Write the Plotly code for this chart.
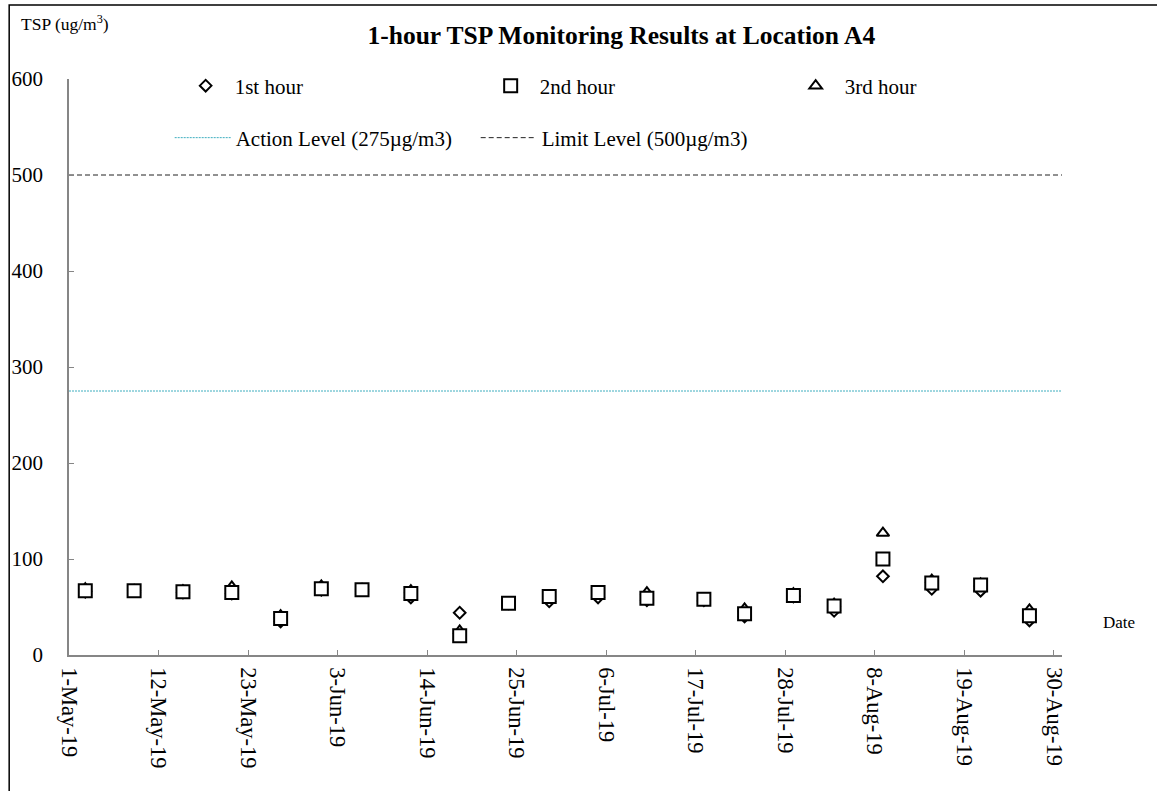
import plotly.graph_objects as go

# ---- data ----
dates = ["2019-05-03", "2019-05-09", "2019-05-15", "2019-05-21", "2019-05-27",
         "2019-06-01", "2019-06-06", "2019-06-12", "2019-06-18", "2019-06-24",
         "2019-06-29", "2019-07-05", "2019-07-11", "2019-07-18", "2019-07-23",
         "2019-07-29", "2019-08-03", "2019-08-09", "2019-08-15", "2019-08-21",
         "2019-08-27"]
hour1 = [66, 67, 65, 64, 35, 68, 68, 60, 44, 54, 56, 60, 57, 57, 40, 61, 46, 82, 69, 67, 36]
hour2 = [67, 67, 66, 65, 38, 69, 68, 64, 20, 54, 61, 65, 59, 58, 43, 62, 51, 100, 75, 73, 41]
hour3 = [69, 67, 67, 71, 41, 72, 68, 67, 25, 54, 58, 62, 65, 58, 48, 64, 53, 127, 78, 74, 47]

level_dates = ["2019-05-01", "2019-08-31"]
action_level = [275, 275]
limit_level = [500, 500]

x_range = ["2019-05-01", "2019-08-31"]
y_range = [0, 600]

FONT = "Liberation Serif, Times New Roman, serif"

fig = go.Figure()

fig.add_trace(go.Scatter(
    x=dates, y=hour3, mode="markers", name="3rd hour", legendrank=3,
    marker=dict(symbol="triangle-up", size=11, color="white",
                line=dict(color="black", width=2)),
    legend="legend"))
fig.add_trace(go.Scatter(
    x=dates, y=hour1, mode="markers", name="1st hour", legendrank=1,
    marker=dict(symbol="diamond", size=9, color="white",
                line=dict(color="black", width=2)),
    legend="legend"))
fig.add_trace(go.Scatter(
    x=dates, y=hour2, mode="markers", name="2nd hour", legendrank=2,
    marker=dict(symbol="square", size=13, color="white",
                line=dict(color="black", width=2)),
    legend="legend"))

fig.add_trace(go.Scatter(
    x=level_dates, y=action_level, mode="lines", name="Action Level (275µg/m3)",
    line=dict(color="#3eaebf", width=1, dash="2px,1px"), legend="legend2", legendrank=1))
fig.add_trace(go.Scatter(
    x=level_dates, y=limit_level, mode="lines", name="Limit Level (500µg/m3)",
    line=dict(color="#222222", width=1, dash="5px,3px"), legend="legend2", legendrank=2))

L, R, T, B = 66, 95, 79, 136
W, H = 1157, 791
PW, PH = W - L - R, H - T - B


def px_x(px):
    return (px - L) / PW


def px_y(py):
    return 1 - (py - T) / PH


fig.update_layout(
    width=W, height=H,
    margin=dict(l=L, r=R, t=T, b=B),
    paper_bgcolor="white", plot_bgcolor="white",
    font=dict(family=FONT, size=21, color="black"),
    title=dict(text="<b>1-hour TSP Monitoring Results at Location A4</b>",
               font=dict(family=FONT, size=25.5, color="black"),
               x=px_x(620), xref="paper", xanchor="center",
               y=1 - 35 / H, yref="container", yanchor="middle"),
    showlegend=True,
    legend=dict(orientation="h", x=px_x(174), y=px_y(86), xanchor="left", yanchor="middle",
                entrywidth=242, itemwidth=48, traceorder="normal", bgcolor="rgba(0,0,0,0)",
                font=dict(family=FONT, size=21, color="black")),
    legend2=dict(orientation="h", x=px_x(167), y=px_y(138), xanchor="left", yanchor="middle",
                 entrywidth=235, itemwidth=56, traceorder="normal", bgcolor="rgba(0,0,0,0)",
                 font=dict(family=FONT, size=21, color="black")),
    xaxis=dict(type="date", range=x_range, tick0="2019-05-01", dtick=11 * 86400000,
               tickformat="%-d-%b-%y", tickangle=90, ticks="inside", ticklen=5,
               tickcolor="#868686", showline=True, linecolor="#868686", linewidth=1.5,
               showgrid=False, zeroline=False, ticklabelstandoff=6,
               tickfont=dict(family=FONT, size=22.5, color="black")),
    yaxis=dict(range=y_range, dtick=100, ticks="inside", ticklen=5,
               tickcolor="#868686", showline=True, linecolor="#868686", linewidth=1.5,
               showgrid=False, zeroline=False, ticklabelstandoff=20,
               tickfont=dict(family=FONT, size=21, color="black")),
    annotations=[
        dict(text="TSP (ug/m<sup>3</sup>)", xref="paper", yref="paper",
             x=px_x(16), y=px_y(23), xanchor="left", yanchor="middle", showarrow=False,
             font=dict(family=FONT, size=17.5, color="black")),
        dict(text="Date", xref="paper", yref="paper",
             x=px_x(1101), y=px_y(622), xanchor="left", yanchor="middle", showarrow=False,
             font=dict(family=FONT, size=17, color="black")),
    ],
    shapes=[
        dict(type="rect", xref="paper", yref="paper",
             x0=px_x(6), x1=px_x(1300), y0=px_y(900), y1=px_y(5),
             line=dict(color="black", width=1.5), fillcolor="rgba(0,0,0,0)", layer="below"),
    ],
)

fig.write_html("out.html",
               config={"displayModeBar": False},
               post_script="document.body.style.margin='0';document.body.style.padding='0';")
